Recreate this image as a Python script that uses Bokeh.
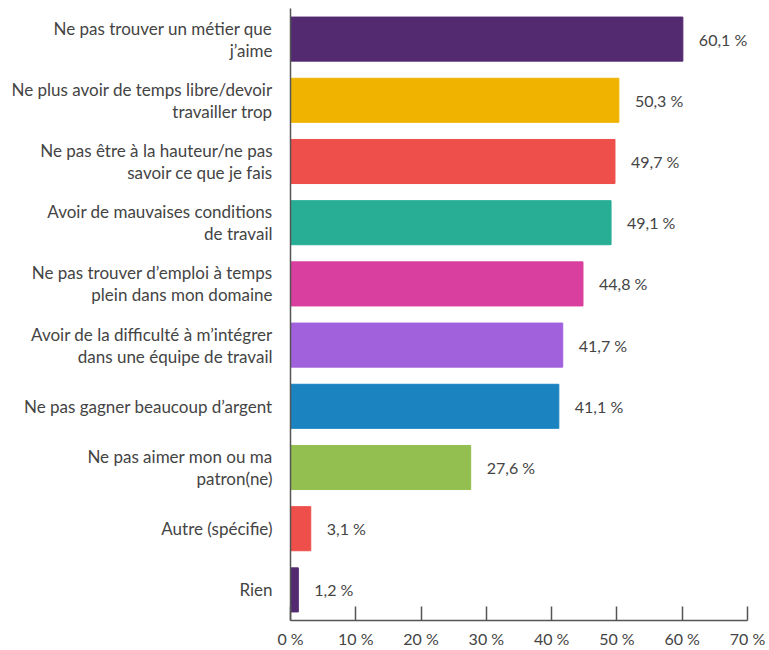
from bokeh.plotting import figure
from bokeh.models import FactorRange, Range1d, FixedTicker, ColumnDataSource, LabelSet
from bokeh.core.properties import value
from bokeh.embed import file_html
from bokeh.resources import INLINE

categories = [
    "Ne pas trouver un métier que\nj’aime",
    "Ne plus avoir de temps libre/devoir\ntravailler trop",
    "Ne pas être à la hauteur/ne pas\nsavoir ce que je fais",
    "Avoir de mauvaises conditions\nde travail",
    "Ne pas trouver d’emploi à temps\nplein dans mon domaine",
    "Avoir de la difficulté à m’intégrer\ndans une équipe de travail",
    "Ne pas gagner beaucoup d’argent",
    "Ne pas aimer mon ou ma\npatron(ne)",
    "Autre (spécifie)",
    "Rien",
]
values = [60.1, 50.3, 49.7, 49.1, 44.8, 41.7, 41.1, 27.6, 3.1, 1.2]
colors = ["#532a6f", "#f0b400", "#ee4f4a", "#27ae95", "#d93f9e",
          "#a160dc", "#1b83c0", "#93bf51", "#ee4f4a", "#532a6f"]
value_labels = ["60,1 %", "50,3 %", "49,7 %", "49,1 %", "44,8 %",
                "41,7 %", "41,1 %", "27,6 %", "3,1 %", "1,2 %"]
x_ticks = [0, 10, 20, 30, 40, 50, 60, 70]
x_tick_labels = ["0 %", "10 %", "20 %", "30 %", "40 %", "50 %", "60 %", "70 %"]

FONT = "Lato"

source = ColumnDataSource(dict(cat=categories, val=values, color=colors, lab=value_labels))

p = figure(
    width=769, height=650,
    y_range=FactorRange(*reversed(categories), range_padding=0),
    x_range=Range1d(0, 70),
    output_backend="svg", toolbar_location=None,
    min_border_left=290, min_border_right=22, min_border_top=8, min_border_bottom=29,
)
p.outline_line_color = None
p.xgrid.visible = False
p.ygrid.visible = False

p.hbar(y="cat", right="val", left=0, height=0.72, color="color", source=source)

labels = LabelSet(x="val", y="cat", text="lab", source=source, x_offset=16,
                  text_align="left", text_baseline="middle",
                  text_font=value(FONT), text_font_size="16px", text_color="#444444")
p.add_layout(labels)

xa = p.xaxis[0]
xa.ticker = FixedTicker(ticks=x_ticks)
xa.major_label_overrides = {t: l for t, l in zip(x_ticks, x_tick_labels)}
xa.major_tick_in = 14
xa.major_tick_out = 0
xa.minor_tick_line_color = None
xa.axis_line_color = "#555555"
xa.major_tick_line_color = "#555555"
xa.axis_line_width = 1.5
xa.major_tick_line_width = 1.5
xa.major_label_text_font = FONT
xa.major_label_text_font_size = "16px"
xa.major_label_text_color = "#444444"
xa.major_label_standoff = 8

ya = p.yaxis[0]
ya.major_tick_line_color = None
ya.minor_tick_line_color = None
ya.axis_line_color = "#555555"
ya.axis_line_width = 1.5
ya.major_label_text_font = FONT
ya.major_label_text_font_size = "17px"
ya.major_label_text_color = "#444444"
ya.major_label_standoff = 12
ya.major_label_text_line_height = 1.05

open("out.html", "w").write(file_html(p, INLINE))
